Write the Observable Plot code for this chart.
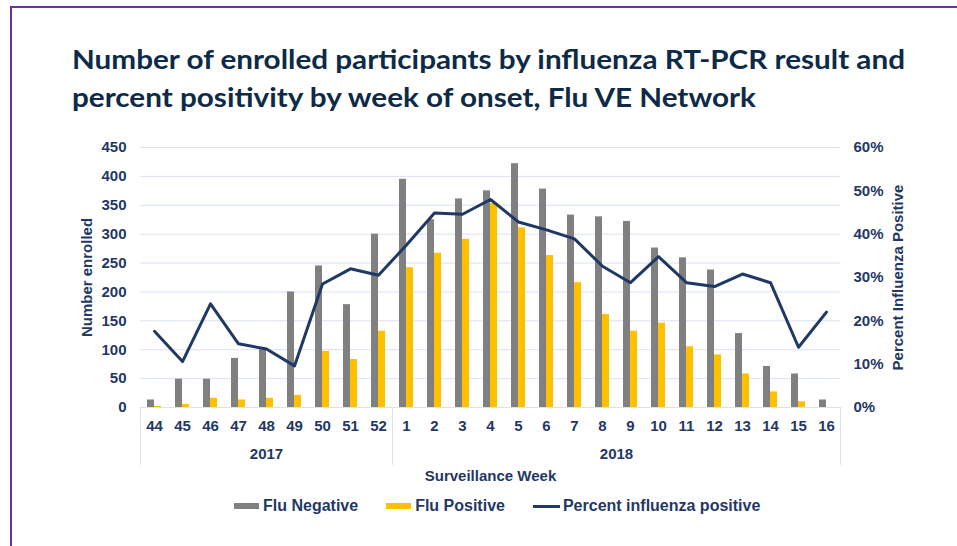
<!DOCTYPE html>
<html><head><meta charset="utf-8">
<script src="https://cdn.jsdelivr.net/npm/d3@7"></script>
<script src="https://cdn.jsdelivr.net/npm/@observablehq/plot@0.6"></script>
<style>
html,body{margin:0;padding:0;background:#fff;}
#wrap{position:relative;width:957px;height:546px;overflow:hidden;font-family:"Liberation Sans",Arial,sans-serif;}
#frame{position:absolute;left:10px;top:6px;width:1000px;height:600px;border-left:2px solid #7030A0;border-top:2px solid #7030A0;}
#chart{position:absolute;left:0;top:0;}
.tl{position:absolute;left:72px;font-family:Lato,"Open Sans",sans-serif;font-weight:700;font-size:27px;line-height:27px;color:#0D2A47;white-space:nowrap;transform-origin:0 0;}
#legend{position:absolute;left:234px;top:497px;display:flex;align-items:center;font-size:16px;font-weight:bold;color:#1F3864;white-space:nowrap;}
.sw{display:inline-block;width:25px;height:6px;margin-right:4px;}
.item{display:flex;align-items:center;margin-right:28px;}
</style></head>
<body>
<div id="wrap">
  <div id="frame"></div>
  <div id="chart"></div>
  <div class="tl" id="t1"></div>
  <div class="tl" id="t2"></div>
  <div id="legend"></div>
</div>
<script>
// ---- data ----
const titleLines = ["Number of enrolled participants by influenza RT-PCR result and", "percent positivity by week of onset, Flu VE Network"];
const weeks = ["44","45","46","47","48","49","50","51","52","1","2","3","4","5","6","7","8","9","10","11","12","13","14","15","16"];
const fluNegative = [13,49,49,85,100,200,245,178,300,395,325,361,375,422,378,333,330,322,276,259,238,128,71,58,13];
const fluPositive = [2,5,16,13,16,21,97,83,132,242,267,291,353,311,263,216,161,132,146,105,91,58,27,10,0];
const percentPositive = [17.6,10.6,23.9,14.7,13.5,9.6,28.5,32.0,30.5,37.5,44.9,44.6,48.0,42.8,41.0,38.9,32.6,28.8,34.8,28.8,27.9,30.8,28.8,13.9,22.0];
const countTicks = [0,50,100,150,200,250,300,350,400,450];
const pctTicks = [0,10,20,30,40,50,60];
const years = ["2017","2018"];
const yearFirstWeek = ["44","1"];
const yearLastWeek = ["52","16"];
const seriesNames = ["Flu Negative","Flu Positive","Percent influenza positive"];
const xTitle = "Surveillance Week";
const yTitleLeft = "Number enrolled";
const yTitleRight = "Percent Influenza Positive";

// ---- styles ----
const colNeg = "#808080", colPos = "#FFC000", colLine = "#1F3864", colText = "#1F3864", colGrid = "#D9E1F2";
const W = 957, H = 546, mL = 140, mR = 117, mT = 147, mB = 139;
const bw = (W - mL - mR) / weeks.length;
const countMax = countTicks[countTicks.length-1], pctMax = pctTicks[pctTicks.length-1];
const k = countMax / pctMax;

const data = weeks.map((w,i) => ({week:w, neg:fluNegative[i], pos:fluPositive[i], pct:percentPositive[i]}));

const yearMarks = years.map((yr,i) => {
  const n = weeks.indexOf(yearLastWeek[i]) - weeks.indexOf(yearFirstWeek[i]);
  return Plot.text([yr], {x: () => yearFirstWeek[i], frameAnchor:"bottom", dy:47, dx: n*bw/2, lineAnchor:"middle", fontSize:15, fontWeight:"bold"});
});

const chart = Plot.plot({
  width: W, height: H, marginLeft: mL, marginRight: mR, marginTop: mT, marginBottom: mB,
  style: {fontFamily:"'Liberation Sans', Arial, sans-serif", fontSize:"15px", fontWeight:"bold", color: colText, background:"transparent", overflow:"visible"},
  x: {type:"band", domain: weeks, padding: 0, axis: null},
  y: {domain: [0, countMax], axis: null},
  marks: [
    Plot.gridY(countTicks, {stroke: colGrid, strokeOpacity: 1, strokeWidth: 1}),
    Plot.ruleX(yearFirstWeek, {x: d => d, dx: -bw/2, y1: 0, y2: -100, stroke: colGrid, strokeWidth: 1}),
    Plot.ruleX([yearLastWeek[yearLastWeek.length-1]], {x: d => d, dx: bw/2, y1: 0, y2: -100, stroke: colGrid, strokeWidth: 1}),
    Plot.barY(data, {x:"week", y:"neg", fill: colNeg, insetLeft: 7, insetRight: 14}),
    Plot.barY(data, {x:"week", y:"pos", fill: colPos, insetLeft: 14, insetRight: 7}),
    Plot.line(data, {x:"week", y: d => d.pct * k, stroke: colLine, strokeWidth: 3, strokeLinejoin:"round"}),
    Plot.axisY({ticks: countTicks, tickSize: 0, tickPadding: 14, label: null, fontSize: 15, fontWeight:"bold"}),
    Plot.axisY({anchor:"right", ticks: pctTicks.map(p => p*k), tickFormat: d => Math.round(d/k) + "%", tickSize: 0, tickPadding: 13, label: null, fontSize: 15, fontWeight:"bold"}),
    Plot.text(weeks, {x: d => d, frameAnchor:"bottom", dy: 19, lineAnchor:"middle", fontSize: 15, fontWeight:"bold"}),
    ...yearMarks,
    Plot.text([xTitle], {frameAnchor:"bottom", dy: 69, lineAnchor:"middle", fontSize: 15, fontWeight:"bold"}),
    Plot.text([yTitleLeft], {frameAnchor:"left", rotate: -90, dx: -53, textAnchor:"middle", lineAnchor:"middle", fontSize: 15, fontWeight:"bold"}),
    Plot.text([yTitleRight], {frameAnchor:"right", rotate: -90, dx: 58, textAnchor:"middle", lineAnchor:"middle", fontSize: 15, fontWeight:"bold"})
  ]
});
document.getElementById("chart").appendChild(chart);

// title
const t1 = document.getElementById("t1"), t2 = document.getElementById("t2");
t1.textContent = titleLines[0]; t2.textContent = titleLines[1];
t1.style.top = "45px"; t2.style.top = "83px";
const targetW = 833;
const w1 = t1.getBoundingClientRect().width;
const s = targetW / w1;
t1.style.transform = `scaleX(${s})`; t2.style.transform = `scaleX(${s})`;

// legend
const legend = document.getElementById("legend");
const swatches = [
  `<span class="sw" style="background:${colNeg}"></span>`,
  `<span class="sw" style="background:${colPos}"></span>`,
  `<span class="sw" style="background:${colLine};height:3px;width:27px;margin-right:3px"></span>`
];
legend.innerHTML = seriesNames.map((n,i) => `<span class="item">${swatches[i]}<span>${n}</span></span>`).join("");
</script>
</body></html>
